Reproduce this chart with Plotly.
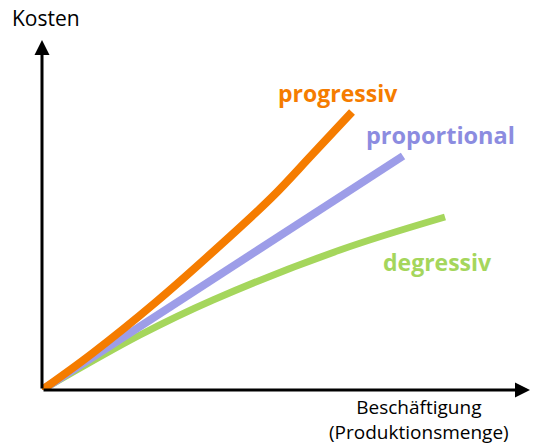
import plotly.graph_objects as go

# data (arbitrary units: 1 unit = 40 px in the reference)
prog_x = [0, 1.25, 2.85, 4.325, 5.75, 6.75, 7.75]
prog_y = [0, 0.91, 2.2, 3.5, 4.82, 5.88, 6.95]
prop_x = [0, 9.025]
prop_y = [0, 5.85]
degr_x = [0, 2.45, 4.275, 7.45, 10.075]
degr_y = [0, 1.375, 2.25, 3.5, 4.325]

ORANGE = "#F57C00"
PURPLE = "#9D9DE8"
GREEN = "#A5D65C"
FONT = "Open Sans"

fig = go.Figure()
fig.add_trace(go.Scatter(x=degr_x, y=degr_y, mode="lines",
                         line=dict(color=GREEN, width=7, shape="spline"), hoverinfo="skip"))
fig.add_trace(go.Scatter(x=prop_x, y=prop_y, mode="lines",
                         line=dict(color=PURPLE, width=8), hoverinfo="skip"))
fig.add_trace(go.Scatter(x=prog_x, y=prog_y, mode="lines",
                         line=dict(color=ORANGE, width=8, shape="spline"), hoverinfo="skip"))

# axes with arrows
fig.add_annotation(x=12.2, y=0, ax=0, ay=0, xref="x", yref="y", axref="x", ayref="y",
                   showarrow=True, arrowhead=2, arrowsize=1.0, arrowwidth=3, arrowcolor="black", text="")
fig.add_annotation(x=0, y=8.75, ax=0, ay=0, xref="x", yref="y", axref="x", ayref="y",
                   showarrow=True, arrowhead=2, arrowsize=1.0, arrowwidth=3, arrowcolor="black", text="")

def label(x, y, text, size, color, ref="paper"):
    fig.add_annotation(x=x, y=y, xref=ref, yref=ref if ref == "paper" else "y",
                       text=text, showarrow=False, xanchor="center", yanchor="middle",
                       font=dict(family=FONT, size=size, color=color))

label(0.008, 1.057, "Kosten", 21, "black")
label(0.769, -0.0852, "Beschäftigung<br>(Produktionsmenge)", 19, "black")
label(7.4, 7.425, "<b>progressiv</b>", 23, ORANGE, ref="x")
label(9.95, 6.375, "<b>proportional</b>", 23.5, "#8C8CE0", ref="x")
label(9.875, 3.2, "<b>degressiv</b>", 23, GREEN, ref="x")

fig.update_layout(width=533, height=447, margin=dict(l=42, r=1, t=38, b=57),
                  paper_bgcolor="white", plot_bgcolor="white", showlegend=False)
fig.update_xaxes(range=[0, 12.25], visible=False)
fig.update_yaxes(range=[0, 8.8], visible=False)

fig.write_html("out.html", config={"displayModeBar": False},
               post_script="document.body.style.margin='0px';")
